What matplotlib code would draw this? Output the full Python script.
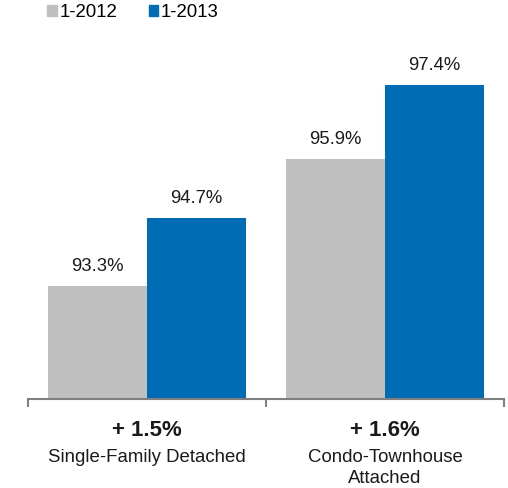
import numpy as np
import matplotlib.pyplot as plt
from matplotlib.patches import Patch

plt.rcParams['font.family'] = ['Liberation Sans', 'DejaVu Sans']

categories = ['Single-Family Detached', 'Condo-Townhouse\nAttached']
changes = ['+ 1.5%', '+ 1.6%']
series = ['1-2012', '1-2013']
v2012 = [93.3, 95.9]
v2013 = [94.7, 97.4]

gray = '#bfbfbf'
blue = '#006cb5'

fig = plt.figure(figsize=(5.08, 4.88), dpi=100)
ax = fig.add_axes([28 / 508, 89 / 488, 476 / 508, 369 / 488])

x = np.arange(len(categories))
w = 0.416
b1 = ax.bar(x - w / 2, v2012, w, bottom=0, color=gray)
b2 = ax.bar(x + w / 2, v2013, w, bottom=0, color=blue)

for bars, vals in [(b1, v2012), (b2, v2013)]:
    for bar, v in zip(bars, vals):
        ax.annotate('{:.1f}%'.format(v), (bar.get_x() + bar.get_width() / 2, v),
                    xytext=(0, 8), textcoords='offset points',
                    ha='center', va='bottom', fontsize=13.3, color='#1a1a1a')

ax.set_xlim(-0.5, 1.5)
ax.set_ylim(91.0, 98.53)

for s in ['top', 'right', 'left']:
    ax.spines[s].set_visible(False)
ax.spines['bottom'].set_color('#808080')
ax.spines['bottom'].set_linewidth(1.5)
ax.set_yticks([])
ax.set_xticks([-0.5, 0.5, 1.5])
ax.set_xticklabels([])
ax.tick_params(axis='x', length=6, width=1.5, color='#808080', direction='out')

for i in range(len(categories)):
    ax.text(i, -0.085, changes[i], transform=ax.get_xaxis_transform(),
            ha='center', va='center', fontsize=16, fontweight='bold', color='#1a1a1a')
    ax.text(i, -0.136, categories[i], transform=ax.get_xaxis_transform(),
            ha='center', va='top', fontsize=13.4, color='#1a1a1a', linespacing=1.33)

handles = [Patch(color=gray, label=series[0]), Patch(color=blue, label=series[1])]
fig.legend(handles=handles, loc='upper left', bbox_to_anchor=(38 / 508, 1.01), ncol=2,
           frameon=False, fontsize=13.4, handlelength=0.5, handleheight=0.55,
           handletextpad=0.15, columnspacing=1.7, borderaxespad=0.1)

fig.savefig('out.png', dpi=100)
